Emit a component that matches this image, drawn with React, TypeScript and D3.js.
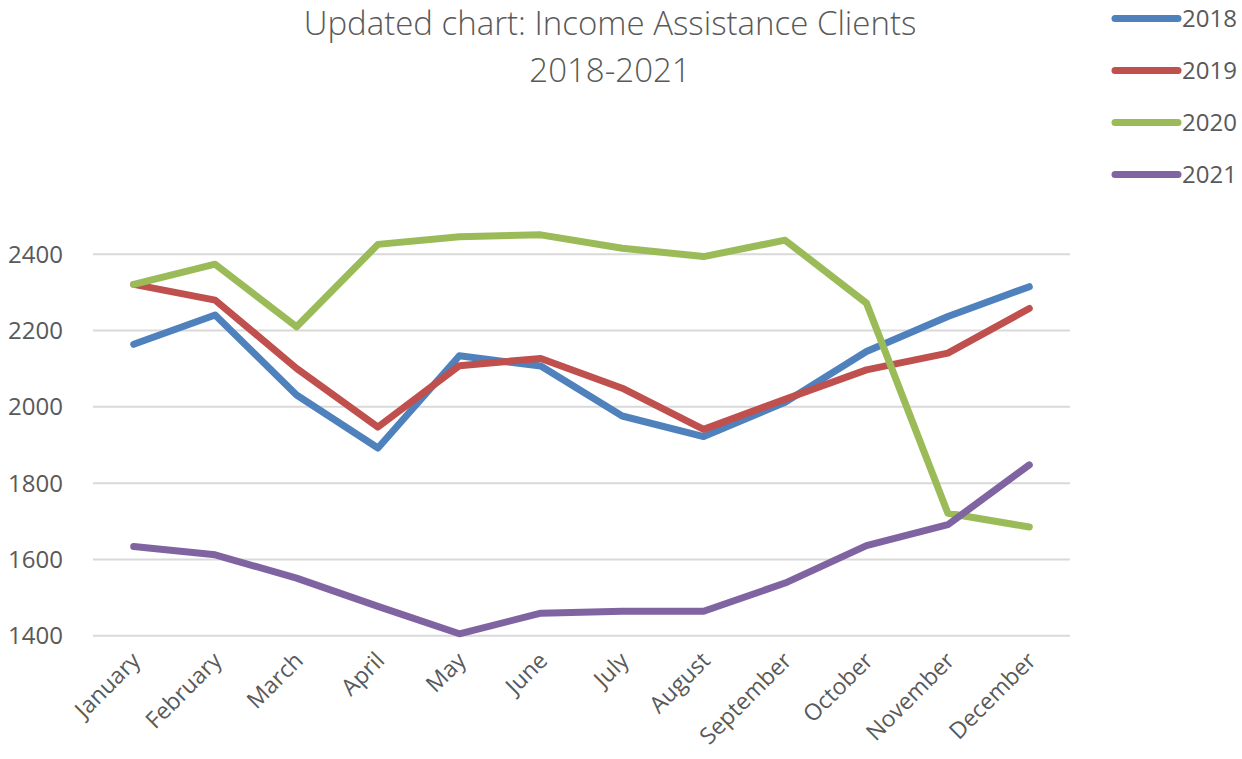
import React from 'react';
import * as d3 from 'd3';

const months = ['January', 'February', 'March', 'April', 'May', 'June', 'July', 'August', 'September', 'October', 'November', 'December'];
const yTicks = [1400, 1600, 1800, 2000, 2200, 2400];

const values2018 = [2164, 2241, 2031, 1892, 2134, 2107, 1976, 1922, 2012, 2145, 2237, 2315];
const values2019 = [2321, 2280, 2101, 1947, 2108, 2127, 2049, 1941, 2020, 2097, 2141, 2258];
const values2020 = [2321, 2374, 2210, 2426, 2446, 2451, 2416, 2394, 2437, 2272, 1721, 1685];
const values2021 = [1634, 1612, 1551, 1477, 1405, 1459, 1464, 1464, 1538, 1636, 1691, 1848];

const seriesNames = ['2018', '2019', '2020', '2021'];
const seriesColors = ['#4F81BD', '#C0504D', '#9BBB59', '#8064A2'];

const W = 1242;
const H = 759;
const font = '"Open Sans", sans-serif';

function LineChart() {
    const series = [values2018, values2019, values2020, values2021];

    const x = d3.scalePoint<string>()
                .domain(months)
                .range([93, 1070])
                .padding(0.5);

    const y = d3.scaleLinear()
                .domain([1400, 2400])
                .range([635.7, 254.3]);

    const line = d3.line<number>()
                .x((d, i) => x(months[i]) as number)
                .y((d) => y(d));

    return (
        <g>
            {yTicks.map((t) =>
                <g key={`grid_${t}`}>
                    <line x1={93} x2={1070} y1={y(t)} y2={y(t)} stroke="#d9d9d9" strokeWidth={2} />
                    <text x={63} y={y(t)} dy="0.35em" textAnchor="end" fill="#595959" fontFamily={font} fontSize={24}>{t}</text>
                </g>
            )}
            {months.map((m) =>
                <text key={`m_${m}`}
                    transform={`translate(${(x(m) as number) + 8}, 662) rotate(-45)`}
                    textAnchor="end" fill="#595959" fontFamily={font} fontSize={23}>{m}</text>
            )}
            {series.map((s, i) =>
                <path key={`s_${i}`} d={line(s) ?? ''} fill="none" stroke={seriesColors[i]}
                    strokeWidth={7} strokeLinejoin="round" strokeLinecap="round" />
            )}
        </g>
    );
}

function Legend() {
    const ly = d3.scalePoint<string>().domain(seriesNames).range([18.5, 174.5]);
    return (
        <g>
            {seriesNames.map((n, i) =>
                <g key={`leg_${n}`} transform={`translate(0, ${ly(n)})`}>
                    <line x1={1115} x2={1178} y1={0} y2={0} stroke={seriesColors[i]} strokeWidth={7} strokeLinecap="round" />
                    <text x={1182} y={0} dy="0.35em" fill="#595959" fontFamily={font} fontSize={24}>{n}</text>
                </g>
            )}
        </g>
    );
}

export default function App() {
    return (
        <svg width={W} height={H} xmlns="http://www.w3.org/2000/svg"
            style={{ position: 'absolute', left: 0, top: 0, background: '#fff' }}>
            <text x={610} y={35} textAnchor="middle" fill="#595959" fontFamily={font} fontWeight={300} fontSize={33}>Updated chart: Income Assistance Clients</text>
            <text x={610} y={82} textAnchor="middle" fill="#595959" fontFamily={font} fontWeight={300} fontSize={33}>2018-2021</text>
            <LineChart />
            <Legend />
        </svg>
    );
}
